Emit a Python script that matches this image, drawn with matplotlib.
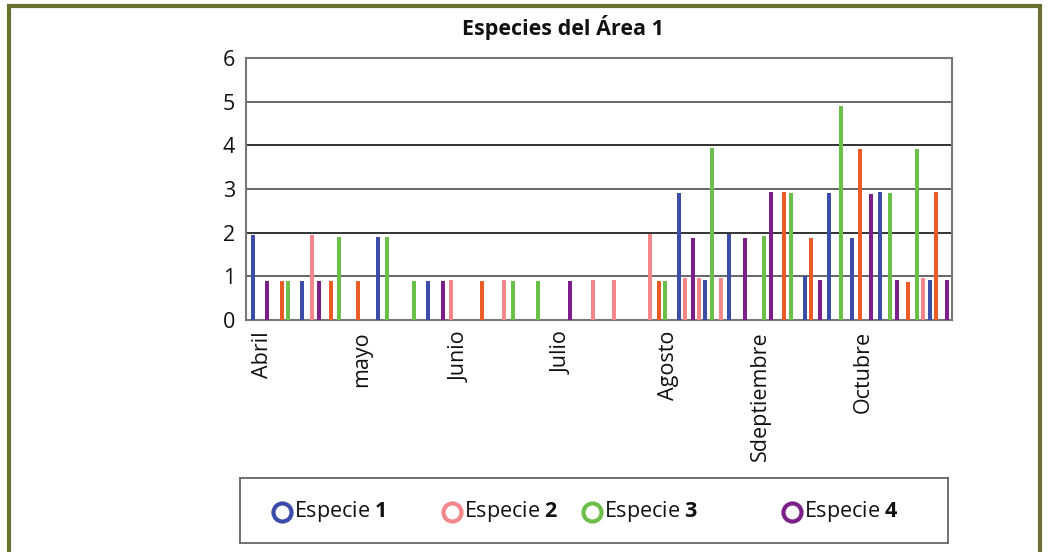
import matplotlib
matplotlib.use("Agg")
import matplotlib.pyplot as plt
from matplotlib.patches import Rectangle

plt.rcParams['font.family'] = ['Open Sans', 'DejaVu Sans']
plt.rcParams['mathtext.fontset'] = 'custom'
plt.rcParams['mathtext.bf'] = 'Open Sans:bold'
plt.rcParams['mathtext.rm'] = 'Open Sans'

TITLE = "Especies del Área 1"

# sampling day (days counted from 1 April) and count per species
DAYS_SP1 = [2.0, 17.1, 40.1, 55.1, 131.2, 139.2, 146.3, 169.4, 176.7, 183.6, 192.1, 207.2]
COUNT_SP1 = [1.95, 0.9, 1.9, 0.9, 2.9, 0.92, 1.96, 1.0, 2.9, 1.88, 2.94, 0.92]

DAYS_SP2 = [20.0, 62.1, 78.3, 105.3, 111.6, 122.6, 133.2, 137.4, 144.1, 205.3]
COUNT_SP2 = [1.95, 0.92, 0.92, 0.92, 0.92, 1.98, 0.96, 0.96, 0.96, 0.96]

DAYS_SP3 = [12.8, 28.1, 42.8, 50.9, 80.8, 88.4, 127.1, 141.3, 157.0, 165.1, 180.4, 195.2, 203.3]
COUNT_SP3 = [0.9, 1.9, 1.9, 0.9, 0.9, 0.9, 0.9, 3.94, 1.92, 2.9, 4.9, 2.9, 3.92]

DAYS_SP4 = [6.5, 22.1, 59.8, 98.3, 135.4, 151.2, 159.0, 174.0, 189.4, 197.4, 212.6]
COUNT_SP4 = [0.9, 0.9, 0.9, 0.9, 1.87, 1.87, 2.92, 0.92, 2.88, 0.92, 0.92]

DAYS_SP5 = [10.8, 25.9, 33.9, 71.5, 125.1, 163.1, 171.2, 186.0, 200.8, 209.2]
COUNT_SP5 = [0.9, 0.9, 0.9, 0.9, 0.9, 2.92, 1.88, 3.92, 0.88, 2.94]

MONTHS = ["Abril", "mayo", "Junio", "Julio", "Agosto", "Sdeptiembre", "Octubre"]
MONTH_TICKS = [5, 35, 65, 96, 128, 156, 187]

LEGEND_NAMES = ["Especie", "Especie", "Especie", "Especie"]
LEGEND_NUMS = ["1", "2", "3", "4"]

colors = ["#3b4da8", "#f4878a", "#6cc04a", "#7a2088", "#ea5b25"]

series = [
    (DAYS_SP1, COUNT_SP1),
    (DAYS_SP2, COUNT_SP2),
    (DAYS_SP3, COUNT_SP3),
    (DAYS_SP4, COUNT_SP4),
    (DAYS_SP5, COUNT_SP5),
]

W, H = 1048, 552
fig = plt.figure(figsize=(W / 100, H / 100), dpi=100)
fig.patch.set_facecolor("white")

ax = fig.add_axes([246 / W, 1 - 320 / H, 706 / W, 262 / H])
for (days, counts), c in zip(series, colors):
    ax.bar(days, counts, width=1.2, color=c, zorder=3)

ax.set_xlim(0, 214)
ax.set_ylim(0, 6)
ax.set_yticks(range(7))
for v in range(1, 6):
    ax.axhline(v, color="#333333" if v % 2 == 0 else "#666666", lw=1.4, zorder=1)
ax.set_xticks(MONTH_TICKS)
ax.set_xticklabels(MONTHS, rotation=90, va="top")
ax.tick_params(axis="both", length=0, labelsize=15.5, colors="#111111")
ax.tick_params(axis="y", pad=8)
ax.tick_params(axis="x", pad=8)
for s in ax.spines.values():
    s.set_color("#777777")
    s.set_linewidth(1.5)

fig.text(563 / W, 1 - 27 / H, TITLE, ha="center", va="center",
         fontsize=15.5, fontweight="bold", color="#111111")

# legend box drawn below the plot
lg = fig.add_axes([240 / W, 1 - 543 / H, 708 / W, 65 / H])
lg.set_xlim(0, 708)
lg.set_ylim(0, 65)
lg.set_xticks([])
lg.set_yticks([])
for s in lg.spines.values():
    s.set_color("#666666")
    s.set_linewidth(1.3)
for cx, name, num, c in zip([42, 212, 352, 552], LEGEND_NAMES, LEGEND_NUMS, colors):
    lg.plot([cx], [31], marker="o", ms=13, mfc="white", mec=c, mew=3)
    lg.text(cx + 12, 31, name + " $\\mathbf{" + num + "}$", ha="left", va="center",
            fontsize=15.5, color="#111111")

# olive frame around the whole panel
fig.add_artist(Rectangle((9 / W, -0.05), 1031 / W, 1.05 - 6 / H,
                         transform=fig.transFigure, fill=False,
                         edgecolor="#6b7030", lw=3))

fig.savefig("out.png", dpi=100)
